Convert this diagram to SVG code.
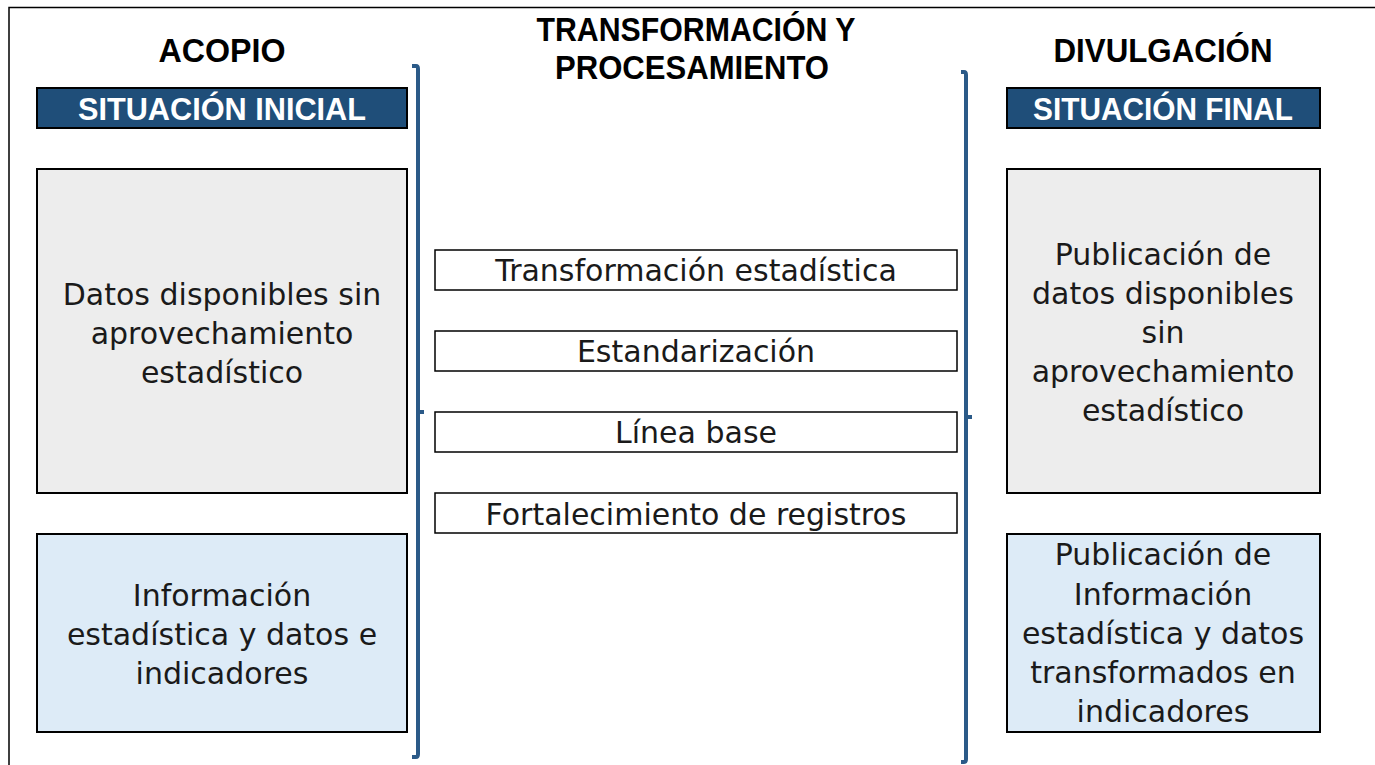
<svg xmlns="http://www.w3.org/2000/svg" width="1375" height="765" viewBox="0 0 1375 765">
<style>
.title{font-family:"Liberation Sans",Arial,sans-serif;font-weight:bold;font-size:33px;fill:#000;text-anchor:middle}
.hdr{font-family:"Liberation Sans",Arial,sans-serif;font-weight:bold;font-size:32px;fill:#fff;text-anchor:middle}
.body{font-family:"DejaVu Sans",sans-serif;font-size:30px;fill:#1a1a1a;text-anchor:middle}
.hbox{fill:#1F4E79;stroke:#000;stroke-width:2}
.gbox{fill:#EDEDED;stroke:#000;stroke-width:2}
.bbox{fill:#DDEBF7;stroke:#000;stroke-width:2}
.mbox{fill:#fff;stroke:#000;stroke-width:1.5}
.brace{fill:none;stroke:#2B5A88;stroke-width:4}
.frame{fill:none;stroke:#000;stroke-width:1.5}
</style>
<rect width="1375" height="765" fill="#fff"/>
<path class="frame" d="M9,765 L9,7.5 L1375,7.5"/>

<g id="title-acopio"><text class="title" x="222" y="62" textLength="127" lengthAdjust="spacingAndGlyphs">ACOPIO</text></g>
<g id="title-transformacion">
<text class="title" x="696" y="41" textLength="319" lengthAdjust="spacingAndGlyphs">TRANSFORMACIÓN Y</text>
<text class="title" x="692" y="79" textLength="274" lengthAdjust="spacingAndGlyphs">PROCESAMIENTO</text>
</g>
<g id="title-divulgacion"><text class="title" x="1163" y="62" textLength="219" lengthAdjust="spacingAndGlyphs">DIVULGACIÓN</text></g>

<g id="situacion-inicial">
<rect class="hbox" x="37" y="88" width="370" height="40"/>
<text class="hdr" x="222" y="120" textLength="288" lengthAdjust="spacingAndGlyphs">SITUACIÓN INICIAL</text>
</g>
<g id="datos-disponibles">
<rect class="gbox" x="37" y="169" width="370" height="324"/>
<text class="body" x="222" y="305">Datos disponibles sin</text>
<text class="body" x="222" y="344">aprovechamiento</text>
<text class="body" x="222" y="383">estadístico</text>
</g>
<g id="informacion-estadistica">
<rect class="bbox" x="37" y="534" width="370" height="198"/>
<text class="body" x="222" y="606">Información</text>
<text class="body" x="222" y="645">estadística y datos e</text>
<text class="body" x="222" y="684">indicadores</text>
</g>

<g id="transformacion-estadistica">
<rect class="mbox" x="435" y="250" width="522" height="40"/>
<text class="body" x="696" y="281">Transformación estadística</text>
</g>
<g id="estandarizacion">
<rect class="mbox" x="435" y="331" width="522" height="40"/>
<text class="body" x="696" y="362">Estandarización</text>
</g>
<g id="linea-base">
<rect class="mbox" x="435" y="412" width="522" height="40"/>
<text class="body" x="696" y="443">Línea base</text>
</g>
<g id="fortalecimiento">
<rect class="mbox" x="435" y="493" width="522" height="40"/>
<text class="body" x="696" y="525">Fortalecimiento de registros</text>
</g>

<g id="situacion-final">
<rect class="hbox" x="1007" y="88" width="313" height="40"/>
<text class="hdr" x="1163" y="120" textLength="260" lengthAdjust="spacingAndGlyphs">SITUACIÓN FINAL</text>
</g>
<g id="publicacion-datos">
<rect class="gbox" x="1007" y="169" width="313" height="324"/>
<text class="body" x="1163" y="265">Publicación de</text>
<text class="body" x="1163" y="304">datos disponibles</text>
<text class="body" x="1163" y="343">sin</text>
<text class="body" x="1163" y="382">aprovechamiento</text>
<text class="body" x="1163" y="421">estadístico</text>
</g>
<g id="publicacion-informacion">
<rect class="bbox" x="1007" y="534" width="313" height="198"/>
<text class="body" x="1163" y="565">Publicación de</text>
<text class="body" x="1163" y="605">Información</text>
<text class="body" x="1163" y="644">estadística y datos</text>
<text class="body" x="1163" y="683">transformados en</text>
<text class="body" x="1163" y="722">indicadores</text>
</g>

<g id="connectors">
<path class="brace" d="M412,66 L416,66 Q418,66 418,69 L418,754 Q418,757 416,757 L412,757 M418,412 L424,412"/>
<path class="brace" d="M961,72 L964,72 Q966,72 966,75 L966,759 Q966,762 964,762 L961,762 M966,417 L972,417"/>
</g>
</svg>
